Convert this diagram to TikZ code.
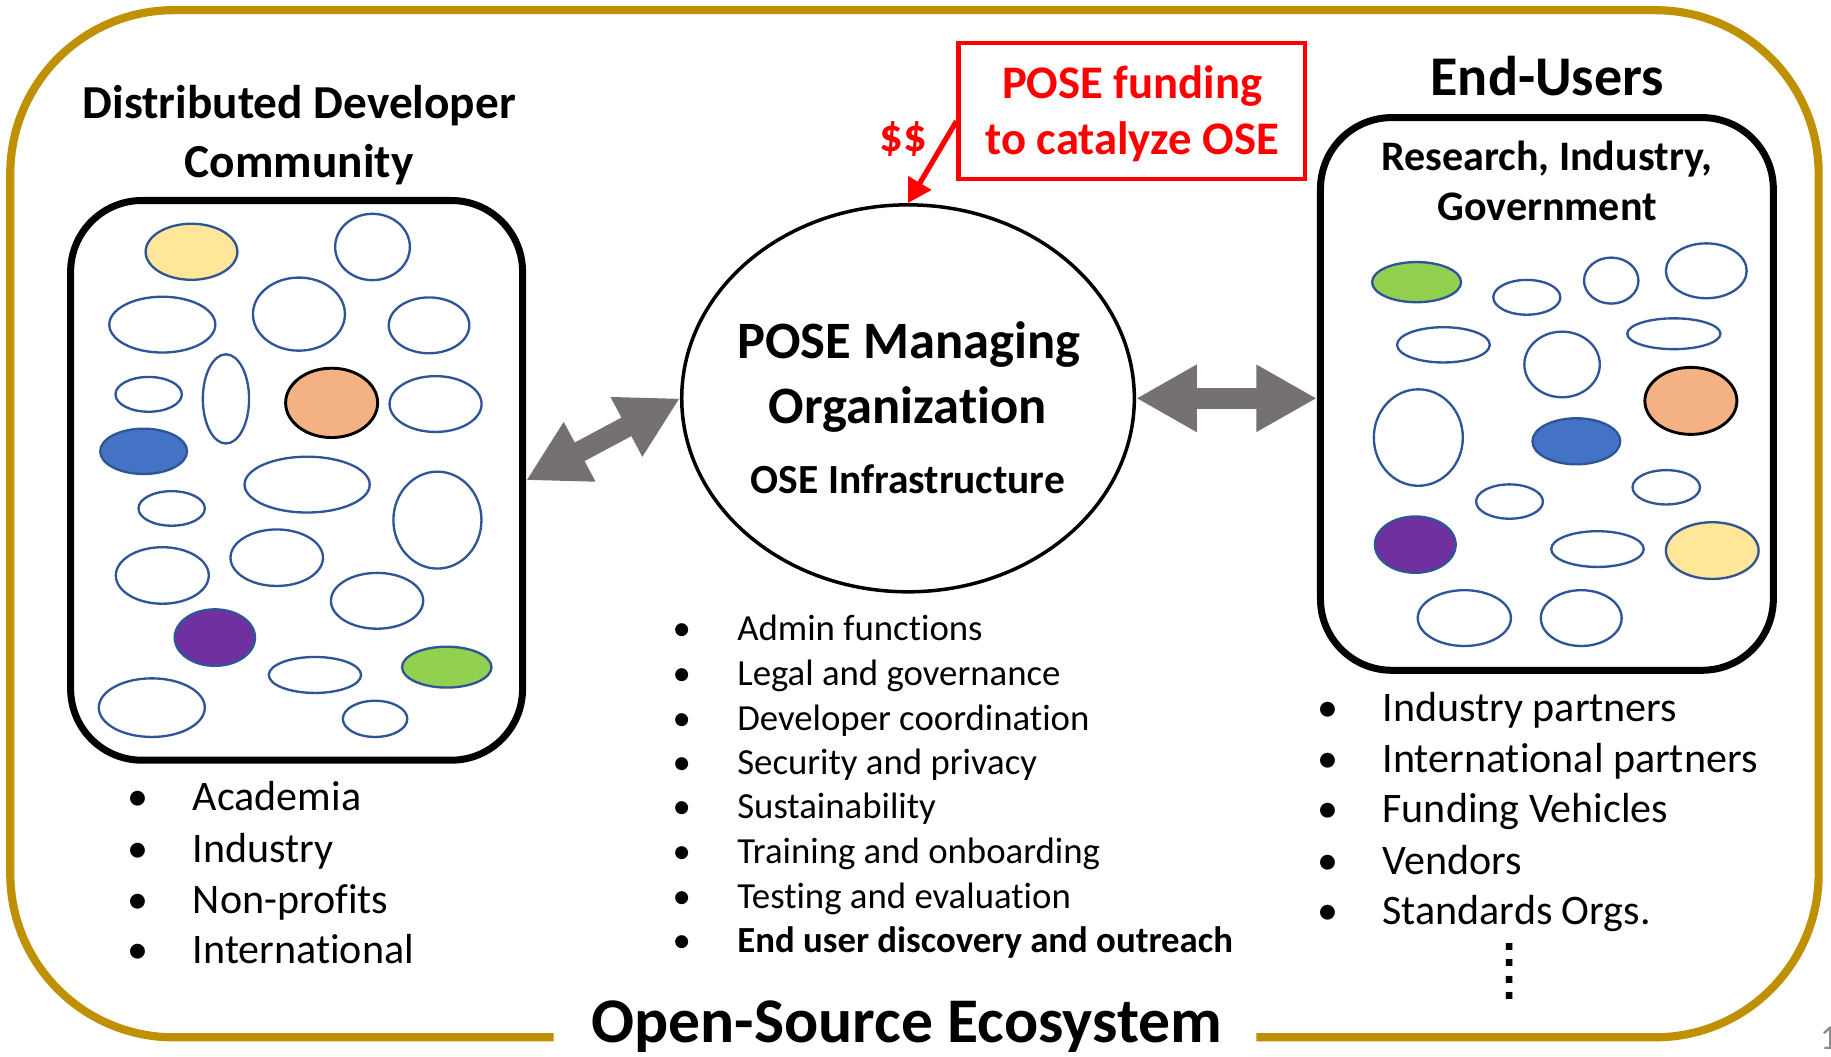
\documentclass[tikz,border=0pt]{standalone}
\usepackage{fontspec}
\setmainfont{Carlito}[Ligatures=NoCommon]
\newfontfamily\djv{DejaVu Sans}
\usetikzlibrary{arrows.meta,shapes.geometric,calc}
\definecolor{gold}{HTML}{BF9000}
\definecolor{eblue}{HTML}{2F5597}
\definecolor{cyellow}{HTML}{FFE699}
\definecolor{corange}{HTML}{F4B183}
\definecolor{cblue}{HTML}{4472C4}
\definecolor{cpurple}{HTML}{7030A0}
\definecolor{cgreen}{HTML}{92D050}
\definecolor{agray}{HTML}{767171}
\definecolor{pgray}{HTML}{898989}
\definecolor{pred}{HTML}{FF0000}
\begin{document}
\begin{tikzpicture}[x=1pt,y=-1pt,
  every node/.style={inner sep=0pt},
  ell/.style={draw=eblue, line width=2pt},
  oell/.style={draw=black, line width=2.5pt, fill=corange},
  cbox/.style={draw=black, line width=6pt, rounded corners=61pt, inner sep=0pt},
  goldline/.style={draw=gold, line width=7pt, rounded corners=140pt},
  garrow/.style={draw=agray, line width=18pt, {Triangle[length=52pt,width=54pt]}-{Triangle[length=52pt,width=54pt]}},
  redarrow/.style={draw=pred, line width=4.5pt, -{Triangle[length=20pt,width=22pt]}},
  ttl/.style={font=\fontsize{40.5}{48}\selectfont\bfseries, anchor=base},
  ttlb/.style={font=\fontsize{45}{52}\selectfont\bfseries, anchor=base},
  ttlc/.style={font=\fontsize{35.5}{42}\selectfont\bfseries, anchor=base},
  rtxt/.style={font=\fontsize{40}{48}\selectfont\bfseries, text=pred, anchor=base},
  eu/.style={font=\fontsize{48}{56}\selectfont\bfseries, anchor=base},
  eus/.style={font=\fontsize{36}{43}\selectfont\bfseries, anchor=base},
  lst/.style={font=\fontsize{36}{43}\selectfont, anchor=base west},
  lbul/.style={font=\fontsize{36}{43}\selectfont, anchor=base},
  mst/.style={font=\fontsize{31.5}{38}\selectfont, anchor=base west},
  mbul/.style={font=\fontsize{31.5}{38}\selectfont, anchor=base},
  eco/.style={font=\fontsize{54.5}{60}\selectfont\bfseries, anchor=base}
]
\useasboundingbox (0,0) rectangle (1568,905);

% outer frame
\draw[goldline] (474,888.3) -- (8.8,888.3) -- (8.8,8.7) -- (1557.4,8.7) -- (1557.4,888.3) -- (1075.8,888.3);
\node[eco] (ecot) at (776.7,893) {Open-Source Ecosystem};
\node[font=\fontsize{30}{34}\selectfont, text=pgray, anchor=base west] (pnum) at (1558.5,898.9) {1};

% left box
\node[cbox, minimum width=387pt, minimum height=479.3pt] (lbox) at (254,411.35) {};
\node[ttl] (lt1) at (256.3,101.3) {Distributed Developer};
\node[ttl] (lt2) at (256.2,152) {Community};

\draw[ell, fill=cyellow] (164,215.6) ellipse [x radius=39.3, y radius=24];
\draw[ell] (319,211.5) ellipse [x radius=32, y radius=28.4];
\draw[ell] (139,278) ellipse [x radius=45.4, y radius=23.9];
\draw[ell] (256,269) ellipse [x radius=39.4, y radius=31.3];
\draw[ell] (367.4,278.6) ellipse [x radius=34.5, y radius=23.9];
\draw[ell] (127.3,337.7) ellipse [x radius=28.4, y radius=14.9];
\draw[ell] (193.5,341.6) ellipse [x radius=19.8, y radius=38.2];
\draw[oell] (284,345) ellipse [x radius=39.4, y radius=29.7];
\draw[ell] (373,346) ellipse [x radius=39.4, y radius=23.9];
\draw[ell, fill=cblue] (123,386.5) ellipse [x radius=37.2, y radius=19.4];
\draw[ell] (263,415) ellipse [x radius=53.6, y radius=23.9];
\draw[ell] (147,435.4) ellipse [x radius=28.4, y radius=14.8];
\draw[ell] (374.6,445.4) ellipse [x radius=37.7, y radius=41.5];
\draw[ell] (139,492.8) ellipse [x radius=39.8, y radius=24.2];
\draw[ell] (237,477.6) ellipse [x radius=39.6, y radius=24.2];
\draw[ell] (322.9,514.5) ellipse [x radius=39.5, y radius=23.9];
\draw[ell, fill=cpurple] (184,546) ellipse [x radius=34.4, y radius=24.2];
\draw[ell] (269.7,578) ellipse [x radius=39.5, y radius=15.4];
\draw[ell, fill=cgreen] (382.6,571.3) ellipse [x radius=38.3, y radius=17.5];
\draw[ell] (130,606) ellipse [x radius=45.4, y radius=25.1];
\draw[ell] (321.2,615.6) ellipse [x radius=27.6, y radius=15.5];

\node[lbul] (lb1) at (118.5,694.4) {\textbullet};
\node[lst] (ll1) at (165,694.4) {Academia};
\node[lbul] (lb2) at (118.5,738.5) {\textbullet};
\node[lst] (ll2) at (165,738.5) {Industry};
\node[lbul] (lb3) at (118.5,782) {\textbullet};
\node[lst] (ll3) at (165,782) {Non-profits};
\node[lbul] (lb4) at (118.5,825.2) {\textbullet};
\node[lst] (ll4) at (165,825.2) {International};

% center
\node[draw, ellipse, line width=3pt, minimum width=387.6pt, minimum height=331.4pt, inner sep=0pt] (circ) at (777.6,341.1) {};
\node[ttlb] (ct1) at (778.2,307.4) {POSE Managing};
\node[ttlb] (ct2) at (777.5,362.3) {Organization};
\node[ttlc] (ct3) at (777.5,422.6) {OSE Infrastructure};

\node[draw=pred, line width=3.5pt, minimum width=297pt, minimum height=116.4pt, inner sep=0pt] (redbox) at (969.3,94.8) {};
\node[rtxt] (rt1) at (969.7,84) {POSE funding};
\node[rtxt] (rt2) at (969.5,132) {to catalyze OSE};
\node[rtxt] (dol) at (773.5,130) {\$\$};
\draw[redarrow] ([yshift=-9pt]redbox.west) -- (circ.north);

\node[mbul] (mb1) at (583.8,548.1) {\textbullet};
\node[mst] (ml1) at (631.2,548.1) {Admin functions};
\node[mbul] (mb2) at (583.8,587.4) {\textbullet};
\node[mst] (ml2) at (631.2,587.4) {Legal and governance};
\node[mbul] (mb3) at (583.8,625.5) {\textbullet};
\node[mst] (ml3) at (631.2,625.5) {Developer coordination};
\node[mbul] (mb4) at (583.8,663.4) {\textbullet};
\node[mst] (ml4) at (631.2,663.4) {Security and privacy};
\node[mbul] (mb5) at (583.8,701.2) {\textbullet};
\node[mst] (ml5) at (631.2,701.2) {Sustainability};
\node[mbul] (mb6) at (583.8,739.4) {\textbullet};
\node[mst] (ml6) at (631.2,739.4) {Training and onboarding};
\node[mbul] (mb7) at (583.8,778.1) {\textbullet};
\node[mst] (ml7) at (631.2,778.1) {Testing and evaluation};
\node[mbul] (mb8) at (583.8,815.7) {\textbullet};
\node[mst, font=\fontsize{31.5}{38}\selectfont\bfseries] (ml8) at (631.2,815.7) {End user discovery and outreach};

% right box
\node[eu] (eut) at (1325,82.2) {End-Users};
\node[cbox, minimum width=387.8pt, minimum height=473.3pt] (rbox) at (1324.7,337.35) {};
\node[eus] (rt3) at (1324.7,146) {Research, Industry,};
\node[eus] (rt4) at (1324.8,189.2) {Government};

\draw[ell, fill=cgreen] (1213.1,241.6) ellipse [x radius=38.1, y radius=17.2];
\draw[ell] (1307.5,254.6) ellipse [x radius=28.7, y radius=14.9];
\draw[ell] (1379.8,240.3) ellipse [x radius=23.3, y radius=19.7];
\draw[ell] (1461.2,231.9) ellipse [x radius=34.6, y radius=23.5];
\draw[ell] (1236.1,295.3) ellipse [x radius=39.7, y radius=15.1];
\draw[ell] (1337.7,312.1) ellipse [x radius=32.3, y radius=28.1];
\draw[ell] (1433.4,285.8) ellipse [x radius=39.9, y radius=13.2];
\draw[oell] (1448,343.3) ellipse [x radius=39.4, y radius=28.7];
\draw[ell] (1214.6,374.7) ellipse [x radius=38.1, y radius=41.3];
\draw[ell, fill=cblue] (1349.9,377.9) ellipse [x radius=37.6, y radius=19.7];
\draw[ell] (1292.7,429.5) ellipse [x radius=28.6, y radius=14.7];
\draw[ell] (1426.9,417.3) ellipse [x radius=28.9, y radius=14.7];
\draw[ell, fill=cpurple] (1212,466.4) ellipse [x radius=34.6, y radius=24.1];
\draw[ell] (1368,470.2) ellipse [x radius=39.6, y radius=15.3];
\draw[ell, fill=cyellow] (1466.3,471.5) ellipse [x radius=39.7, y radius=24.3];
\draw[ell] (1254,529.3) ellipse [x radius=39.9, y radius=23.9];
\draw[ell] (1354.1,529.3) ellipse [x radius=34.6, y radius=23.9];

\node[lbul] (rb1) at (1137,618.2) {\textbullet};
\node[lst] (rl1) at (1183.8,618.2) {Industry partners};
\node[lbul] (rb2) at (1137,661.5) {\textbullet};
\node[lst] (rl2) at (1183.8,661.5) {International partners};
\node[lbul] (rb3) at (1137,704.3) {\textbullet};
\node[lst] (rl3) at (1183.8,704.3) {Funding Vehicles};
\node[lbul] (rb4) at (1137,748.5) {\textbullet};
\node[lst] (rl4) at (1183.8,748.5) {Vendors};
\node[lbul] (rb5) at (1137,791.3) {\textbullet};
\node[lst] (rl5) at (1183.8,791.3) {Standards Orgs.};
\node[font=\djv\bfseries\fontsize{32}{14}\selectfont, align=center, anchor=south] (vdots) at (1292.7,856) {.\\.\\.\\.};

% connectors
\draw[garrow] (lbox.east) -- (circ.west);
\draw[garrow, line width=18.5pt] (circ.east) -- (circ.east -| rbox.west);
\end{tikzpicture}
\end{document}
